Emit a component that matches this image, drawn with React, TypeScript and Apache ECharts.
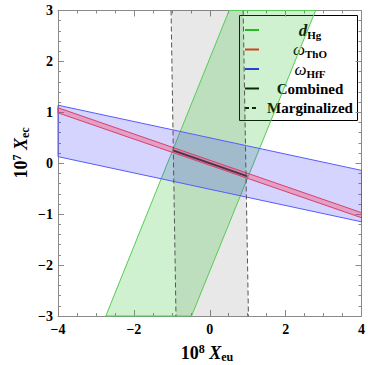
import React, { useEffect, useRef } from "react";
import * as echarts from "echarts";

// Region vertices, [x (10^8 X_eu), y (10^7 X_ec)]
const marginalizedBand: number[][] = [[-1.02, 3], [0.88, 3], [1.02, -3], [-0.89, -3]];
const dHgBand: number[][] = [[-2.74, -3], [-0.48, -3], [2.79, 3], [0.51, 3]];
const hfFBand: number[][] = [[-4, 1.14], [4, -0.14], [4, -1.15], [-4, 0.13]];
const thOBand: number[][] = [[-4, 1.09], [4, -0.97], [4, -1.07], [-4, 0.99]];
const combinedBand: number[][] = [[-0.96, 0.27], [0.99, -0.235], [0.99, -0.275], [-0.96, 0.23]];
const marginalizedLeft: number[][] = [[-1.02, 3], [-0.89, -3]];
const marginalizedRight: number[][] = [[0.88, 3], [1.02, -3]];

const xRange = [-4, 4];
const yRange = [-3, 3];
const legendLabels = ["Combined", "Marginalized"];

const SERIF = "'Liberation Serif', 'Times New Roman', serif";

function fmt(v: number): string {
  return v < 0 ? "\u2212" + Math.abs(v) : String(v);
}

function polySeries(verts: number[][], fill: string, stroke: string, lw: number, z: number) {
  return {
    type: "custom",
    z,
    silent: true,
    data: [[0, 0]],
    renderItem: (_p: any, api: any) => ({
      type: "polygon",
      shape: { points: verts.map((v) => api.coord(v)) },
      style: { fill, stroke, lineWidth: lw },
    }),
  };
}

function lineSeries(verts: number[][], stroke: string, z: number) {
  return {
    type: "custom",
    z,
    silent: true,
    data: [[0, 0]],
    renderItem: (_p: any, api: any) => ({
      type: "polyline",
      shape: { points: verts.map((v) => api.coord(v)) },
      style: { fill: null, stroke, lineWidth: 1, lineDash: [5, 3] },
    }),
  };
}

export default function App() {
  const ref = useRef<HTMLDivElement>(null);
  useEffect(() => {
    document.body.style.margin = "0";
    const chart = echarts.init(ref.current!, null, { renderer: "svg" });
    const frame = "#8a8a8a";
    const axisBase = {
      type: "value",
      axisLine: { show: true, onZero: false, lineStyle: { color: frame, width: 1 } },
      axisTick: { show: true, inside: true, length: 6, lineStyle: { color: frame } },
      minorTick: { show: true, length: 3, lineStyle: { color: frame } },
      splitLine: { show: false },
      minorSplitLine: { show: false },
    };
    const label = {
      fontFamily: SERIF,
      fontWeight: "bold",
      fontSize: 14,
      color: "#000",
      formatter: fmt,
    };
    const legendY = [30, 49.5, 69, 88.5, 108];
    const legendColors = ["#22bb22", "#ff2020", "#2020ff", "#000", "#000"];
    const legendChildren: any[] = [
      { type: "rect", shape: { x: 239.5, y: 15.5, width: 118, height: 105 }, style: { fill: "#fff", stroke: "#000", lineWidth: 1 } },
    ];
    legendY.forEach((y, i) => {
      legendChildren.push({
        type: "line",
        shape: { x1: 245, y1: y, x2: 259, y2: y },
        style: { stroke: legendColors[i], lineWidth: 2, lineDash: i === 4 ? [4, 3] : null },
      });
    });
    const rich = {
      d: { fontFamily: SERIF, fontSize: 17, fontWeight: "bold", fontStyle: "italic", lineHeight: 20 },
      w: { fontFamily: SERIF, fontSize: 17, fontStyle: "italic", lineHeight: 20 },
      s: { fontFamily: SERIF, fontSize: 11, fontWeight: "bold", lineHeight: 10, verticalAlign: "bottom" },
      t: { fontFamily: SERIF, fontSize: 15, fontWeight: "bold", lineHeight: 20 },
    };
    const legendTexts = [
      "{d|d}{s|Hg}",
      "{w|ω}{s|ThO}",
      "{w|ω}{s|HfF}",
      "{t|" + legendLabels[0] + "}",
      "{t|" + legendLabels[1] + "}",
    ];
    legendTexts.forEach((t, i) => {
      legendChildren.push({
        type: "text",
        x: 310,
        y: legendY[i],
        style: { text: t, rich, align: "center", verticalAlign: "middle", fill: "#000" },
      });
    });

    const titleRich = {
      n: { fontFamily: SERIF, fontSize: 18, fontWeight: "bold", lineHeight: 20 },
      sup: { fontFamily: SERIF, fontSize: 12, fontWeight: "bold", lineHeight: 12, verticalAlign: "top" },
      x: { fontFamily: SERIF, fontSize: 18, fontWeight: "bold", fontStyle: "italic", lineHeight: 20 },
      sub: { fontFamily: SERIF, fontSize: 12, fontWeight: "bold", lineHeight: 12, verticalAlign: "bottom" },
    };

    chart.setOption({
      animation: false,
      backgroundColor: "#fff",
      grid: { left: 58, right: 5, top: 10.5, bottom: 49 },
      xAxis: [
        { ...axisBase, position: "bottom", min: xRange[0], max: xRange[1], interval: 2, minorTick: { ...axisBase.minorTick, splitNumber: 4 }, axisLabel: { ...label, margin: 6 } },
        { ...axisBase, position: "top", min: xRange[0], max: xRange[1], interval: 2, minorTick: { ...axisBase.minorTick, splitNumber: 4 }, axisLabel: { show: false } },
      ],
      yAxis: [
        { ...axisBase, position: "left", min: yRange[0], max: yRange[1], interval: 1, minorTick: { ...axisBase.minorTick, splitNumber: 5 }, axisLabel: { ...label, margin: 5 } },
        { ...axisBase, position: "right", min: yRange[0], max: yRange[1], interval: 1, minorTick: { ...axisBase.minorTick, splitNumber: 5 }, axisLabel: { show: false } },
      ],
      series: [
        polySeries(marginalizedBand, "rgba(0,0,0,0.09)", "none", 0, 1),
        polySeries(dHgBand, "rgba(40,190,40,0.22)", "#55cc55", 1, 2),
        polySeries(hfFBand, "rgba(60,60,255,0.22)", "#5a5aff", 1, 3),
        polySeries(thOBand, "rgba(255,60,90,0.35)", "#d8406a", 1, 4),
        polySeries(combinedBand, "rgba(40,0,40,0.7)", "none", 0, 5),
        lineSeries(marginalizedLeft, "#555", 6),
        lineSeries(marginalizedRight, "#555", 6),
      ],
      graphic: [
        { type: "group", z: 100, children: legendChildren },
        {
          type: "text",
          x: 207,
          y: 353,
          z: 100,
          style: { text: "{n|10}{sup|8}{n| }{x|X}{sub|eu}", rich: titleRich, align: "center", verticalAlign: "middle", fill: "#000" },
        },
        {
          type: "text",
          x: 21,
          y: 153,
          rotation: Math.PI / 2,
          z: 100,
          style: { text: "{n|10}{sup|7}{n| }{x|X}{sub|ec}", rich: titleRich, align: "center", verticalAlign: "middle", fill: "#000" },
        },
      ],
    });
    return () => chart.dispose();
  }, []);
  return <div ref={ref} style={{ width: 368, height: 365 }} />;
}
